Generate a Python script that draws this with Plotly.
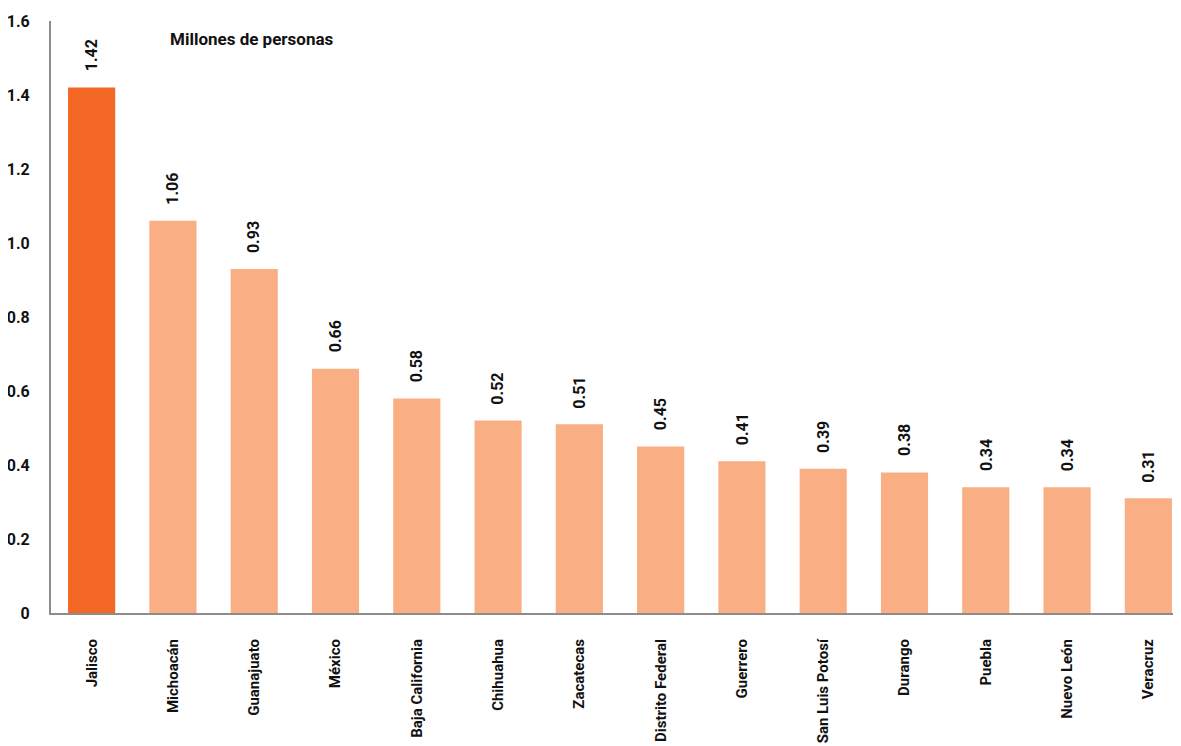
import plotly.graph_objects as go

states = ["Jalisco", "Michoacán", "Guanajuato", "México", "Baja California", "Chihuahua",
          "Zacatecas", "Distrito Federal", "Guerrero", "San Luis Potosí", "Durango",
          "Puebla", "Nuevo León", "Veracruz"]
values = [1.42, 1.06, 0.93, 0.66, 0.58, 0.52, 0.51, 0.45, 0.41, 0.39, 0.38, 0.34, 0.34, 0.31]
y_ticks = [0, 0.2, 0.4, 0.6, 0.8, 1.0, 1.2, 1.4, 1.6]
y_tick_labels = ["0", "0.2", "0.4", "0.6", "0.8", "1.0", "1.2", "1.4", "1.6"]

colors = ["#F26724" if i == 0 else "#F9AE83" for i in range(len(states))]
FONT = "Roboto, sans-serif"

fig = go.Figure()
fig.add_trace(go.Bar(x=states, y=values, marker=dict(color=colors, line=dict(width=0)),
                     width=0.58, hoverinfo="x+y"))

for s, v in zip(states, values):
    fig.add_annotation(x=s, y=v, text=f"{v:.2f}", textangle=-90, showarrow=False,
                       xanchor="center", yanchor="bottom", yshift=14,
                       font=dict(family=FONT, size=16, color="#111", weight="bold"))

fig.add_annotation(xref="paper", yref="paper", x=0.103, y=0.97, xanchor="left", yanchor="middle",
                   text="Millones de personas", showarrow=False,
                   font=dict(family=FONT, size=17, color="#111", weight="bold"))

fig.update_layout(
    width=1181, height=746,
    margin=dict(l=43, r=0, t=13, b=141),
    plot_bgcolor="white", paper_bgcolor="white",
    showlegend=False,
    font=dict(family=FONT, color="#111"),
)
fig.update_xaxes(showline=True, linecolor="#8c8c8c", linewidth=2, showgrid=False,
                 ticks="", tickangle=-90, ticklabelstandoff=18, automargin=False,
                 tickfont=dict(family=FONT, size=15, color="#111", weight="bold"))
fig.update_yaxes(range=[0, 1.6], tickvals=y_ticks, ticktext=y_tick_labels,
                 showline=True, linecolor="#8c8c8c", linewidth=2, showgrid=False,
                 zeroline=False, ticks="", ticklabelstandoff=16, automargin=False,
                 tickfont=dict(family=FONT, size=16, color="#111", weight="bold"))

fig.write_html("out.html")
